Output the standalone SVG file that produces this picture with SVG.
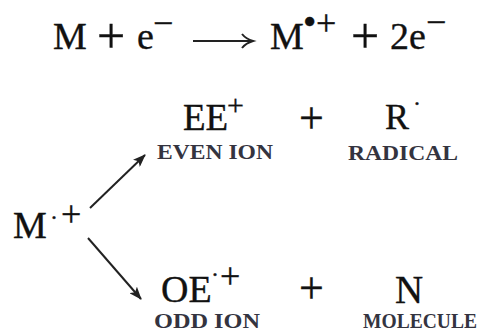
<svg xmlns="http://www.w3.org/2000/svg" width="493" height="331" viewBox="0 0 493 331">
<defs>
<style>
text{font-family:"Liberation Serif","Times New Roman",serif;fill:#111;stroke:#111;stroke-width:0.35}
.big{font-size:38px}
.sup{font-size:36px}
.op{font-size:50px}
.op2{font-size:44px}
.dot{font-size:24px}
.lbl{font-size:20px;font-weight:bold;fill:#34343f;stroke:none}
.arr{stroke:#222;stroke-width:2;fill:none}
</style>
<marker id="ah" viewBox="0 0 13 10" refX="12" refY="5" markerWidth="13" markerHeight="10" markerUnits="userSpaceOnUse" orient="auto">
<path d="M0,0 L13,5 L0,10 L3,5 Z" fill="#222"/>
</marker>
</defs>
<rect width="493" height="331" fill="#fff"/>
<g id="equation">
<text class="big" x="53" y="49">M</text>
<text class="op" x="97" y="53">+</text>
<text class="big" x="137" y="49">e</text>
<text class="sup" x="153" y="35">−</text>
<path d="M193,41 L250,41" stroke="#222" stroke-width="2.2"/>
<path d="M242,34 Q246,39 253,41 Q246,43 242,48" stroke="#222" stroke-width="2" fill="none"/>
<text class="big" x="270" y="49">M</text>
<text x="303" y="35" style="font-size:38px">•</text>
<text class="sup" x="316" y="35">+</text>
<text class="op" x="351" y="53">+</text>
<text class="big" x="390" y="49">2e</text>
<text class="sup" x="426" y="34">−</text>
</g>
<g id="node-M">
<text class="big" x="13" y="238">M</text>
<text class="dot" x="50" y="225">·</text>
<text class="sup" x="61" y="226">+</text>
</g>
<g id="node-EE">
<text x="183" y="130" style="font-size:37px">EE</text>
<text x="227" y="115" style="font-size:30px">+</text>
<text class="lbl" x="157" y="159" textLength="116" lengthAdjust="spacingAndGlyphs">EVEN ION</text>
</g>
<g id="plus-top">
<text class="op2" x="299" y="133">+</text>
</g>
<g id="node-R">
<text x="385" y="129" style="font-size:36px">R</text>
<text class="dot" x="413" y="111">·</text>
<text class="lbl" x="348" y="160" textLength="110" lengthAdjust="spacingAndGlyphs">RADICAL</text>
</g>
<g id="node-OE">
<text x="161" y="302" style="font-size:38px">OE</text>
<text class="dot" x="211" y="282">·</text>
<text class="sup" x="220" y="288">+</text>
<text class="lbl" x="154" y="328" textLength="106" lengthAdjust="spacingAndGlyphs">ODD ION</text>
</g>
<g id="plus-bottom">
<text class="op2" x="299" y="303">+</text>
</g>
<g id="node-N">
<text x="395" y="303" style="font-size:39px">N</text>
<text class="lbl" x="363" y="328" textLength="114" lengthAdjust="spacingAndGlyphs">MOLECULE</text>
</g>
<g id="connectors">
<path class="arr" d="M90,208 L145,155" marker-end="url(#ah)"/>
<path class="arr" d="M88,238 L141,299" marker-end="url(#ah)"/>
</g>
</svg>
